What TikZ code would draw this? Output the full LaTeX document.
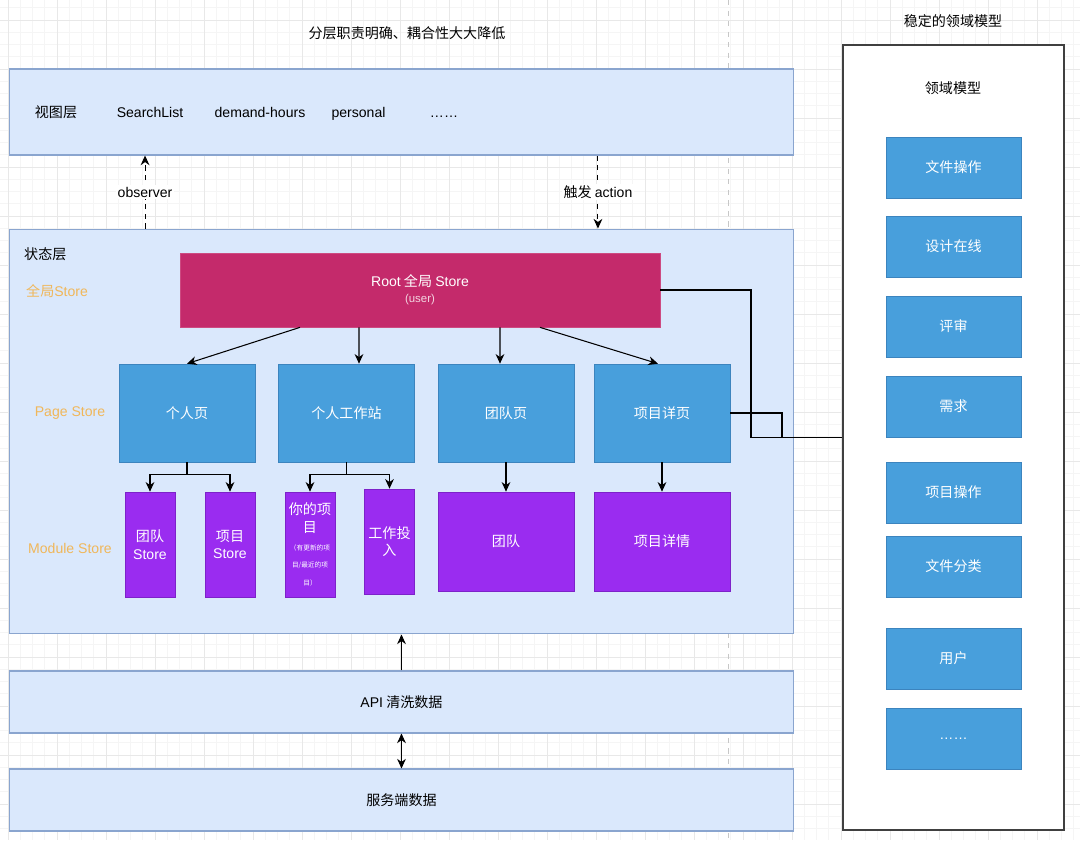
\documentclass[tikz,border=0pt]{standalone}
\usepackage{fontspec}
\setmainfont{Noto Sans CJK SC}
\newfontfamily\lat{Liberation Sans}
\usetikzlibrary{arrows.meta,positioning,calc}
\definecolor{layerfill}{HTML}{DAE8FC}
\definecolor{layerline}{HTML}{8AA5CF}
\definecolor{rootfill}{HTML}{C42A6B}
\definecolor{pagefill}{HTML}{489FDC}
\definecolor{pageline}{HTML}{3C84BE}
\definecolor{modfill}{HTML}{9A2CF0}
\definecolor{modline}{HTML}{7D22C9}
\definecolor{tagorange}{HTML}{F0B75A}
\tikzset{
    layer/.style={draw=layerline,fill=layerfill,line width=0.6pt,minimum width=15.7cm,inner sep=0pt},
    rootbox/.style={draw=rootfill!85!white,fill=rootfill,text=white,align=center,minimum width=9.6cm,minimum height=1.48cm},
    pagebox/.style={draw=pageline,fill=pagefill,text=white,minimum width=2.72cm,minimum height=1.96cm,inner sep=0pt},
    modbox/.style={draw=modline,fill=modfill,text=white,align=center,inner sep=0pt},
    dombox/.style={draw=pageline,fill=pagefill,text=white,minimum width=2.7cm,minimum height=1.22cm},
    tag/.style={text=tagorange},
    arrow/.style={-{Stealth[length=5.5pt,width=5pt]},line width=0.6pt},
    dasharrow/.style={arrow,dash pattern=on 3pt off 2.5pt},
    link/.style={line width=0.6pt},
    gridminor/.style={black!4,line width=0.4pt},
    gridmajor/.style={black!9,line width=0.5pt}
}

\begin{document}
\begin{tikzpicture}[x=0.02cm,y=-0.02cm,every node/.style={font=\fontsize{8}{10}\selectfont}]
    \useasboundingbox (0,0) rectangle (1080,840);

    % background grid
    \foreach \g in {8,20.25,...,1080} {\draw[gridminor] (\g,0) -- (\g,840);}
    \foreach \g in {7.75,20,...,840} {\draw[gridminor] (0,\g) -- (1080,\g);}
    \foreach \g in {8,57,...,1080} {\draw[gridmajor] (\g,0) -- (\g,840);}
    \foreach \g in {20,69,...,840} {\draw[gridmajor] (0,\g) -- (1080,\g);}
    \draw[black!22,dash pattern=on 3pt off 3pt] (728,0) -- (728,840);

    % titles
    \node (title) at (407,33) {分层职责明确、耦合性大大降低};
    \node (domtitle) at (953,21) {稳定的领域模型};

    % view layer
    \node[layer,minimum height=1.72cm] (view) at (401.5,112) {};
    \node[anchor=base] (v0) at (56,117) {视图层};
    \node[anchor=base] (v1) at (150,117) {\lat SearchList};
    \node[anchor=base] (v2) at (260,117) {\lat demand-hours};
    \node[anchor=base] (v3) at (358.5,117) {\lat personal};
    \node[anchor=base] (v4) at (444,117) {\lat ……};

    % state layer
    \node[layer,minimum height=8.1cm] (state) at (401.5,431.5) {};
    \node[anchor=west] (s0) at (18,254) {状态层};
    \node[tag,anchor=west] (s1) at (20,291) {全局{\lat Store}};
    \node[tag] (s2) at (70,413) {\lat Page Store};
    \node[tag] (s3) at (70,548) {\lat Module Store};

    \draw[dasharrow] ([xshift=-5.13cm]state.north) -- ([xshift=-5.13cm]view.south)
        node[midway,fill=white,inner sep=1pt] (obs) {\lat observer};
    \draw[dasharrow] ([xshift=3.93cm]view.south) -- ([xshift=3.93cm]state.north)
        node[midway,fill=white,inner sep=1pt] (act) {触发 {\lat action}};

    % root store
    \node[rootbox] (root) at (420,290) {{\lat Root} 全局 {\lat Store}\\[-1pt]{\fontsize{6.5}{8}\selectfont\color{white!80!rootfill}\lat (user)}};

    % page stores
    \node[pagebox] (p1) at (187,413) {个人页};
    \node[pagebox] (p2) at (346.5,413) {个人工作站};
    \node[pagebox] (p3) at (506,413) {团队页};
    \node[pagebox] (p4) at (662,413) {项目详页};

    \draw[arrow] ([xshift=-2.4cm]root.south) -- (p1.north);
    \draw[arrow] ([xshift=-1.22cm]root.south) -- ([xshift=0.25cm]p2.north);
    \draw[arrow] ([xshift=1.6cm]root.south) -- ([xshift=-0.12cm]p3.north);
    \draw[arrow] ([xshift=2.4cm]root.south) -- ([xshift=-0.08cm]p4.north);

    % module stores
    \node[modbox,minimum width=1cm,minimum height=2.1cm] (m1) at (150,544.5) {团队\\{\lat Store}};
    \node[modbox,minimum width=1cm,minimum height=2.1cm] (m2) at (230,544.5) {项目\\{\lat Store}};
    \node[modbox,minimum width=1cm,minimum height=2.1cm] (m3) at (310,544.5) {你的项\\目\\{\fontsize{3.8}{10}\selectfont （有更新的项}\\{\fontsize{3.8}{10}\selectfont 目/最近的项}\\{\fontsize{3.8}{10}\selectfont 目）}};
    \node[modbox,minimum width=1cm,minimum height=2.1cm] (m4) at (389.5,541.5) {工作投\\入};
    \node[modbox,minimum width=2.72cm,minimum height=1.98cm] (m5) at (506,541.5) {团队};
    \node[modbox,minimum width=2.72cm,minimum height=1.98cm] (m6) at (662,541.5) {项目详情};

    \draw[arrow] (p1.south) -- ++(0,12) -| (m1.north);
    \draw[arrow] (p1.south) -- ++(0,12) -| (m2.north);
    \draw[arrow] (p2.south) -- ++(0,12) -| (m3.north);
    \draw[arrow] (p2.south) -- ++(0,12) -| (m4.north);
    \draw[arrow] (p3.south) -- (m5.north);
    \draw[arrow] (p4.south) -- (m6.north);

    % api + server
    \node[layer,minimum height=1.24cm] (api) at (401.5,702) {{\lat API} 清洗数据};
    \node[layer,minimum height=1.24cm] (srv) at (401.5,800) {服务端数据};
    \draw[arrow] (api.north) -- (state.south);
    \draw[{Stealth[length=5.5pt,width=5pt]}-{Stealth[length=5.5pt,width=5pt]},line width=0.6pt] (api.south) -- (srv.north);

    % domain model
    \node[draw=black!75,fill=white,line width=0.8pt,minimum width=4.42cm,minimum height=15.7cm] (dom) at (953.5,437.5) {};
    \node (domhead) at (953,88) {领域模型};
    \node[dombox] (d1) at (953.5,167.5) {文件操作};
    \node[dombox] (d2) at (953.5,246.5) {设计在线};
    \node[dombox] (d3) at (953.5,326.5) {评审};
    \node[dombox] (d4) at (953.5,406.5) {需求};
    \node[dombox] (d5) at (953.5,492.5) {项目操作};
    \node[dombox] (d6) at (953.5,566.5) {文件分类};
    \node[dombox] (d7) at (953.5,658.5) {用户};
    \node[dombox] (d8) at (953.5,738.5) {\lat ……};

    % links to the domain model
    \coordinate (bendA) at (751,437.5);
    \coordinate (bendB) at (782,437.5);
    \draw[link] (root.east) -| (bendA) -- (dom.west);
    \draw[link] (p4.east) -| (bendB) -- (dom.west);
\end{tikzpicture}
\end{document}
